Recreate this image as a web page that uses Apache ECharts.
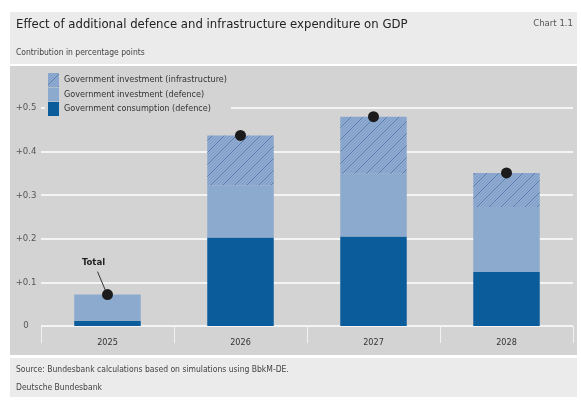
<!DOCTYPE html>
<html>
<head>
<meta charset="utf-8">
<script src="https://cdn.jsdelivr.net/npm/echarts@6/dist/echarts.min.js"></script>
<style>
  html, body { margin: 0; padding: 0; background: #fff; }
  #chart { width: 581px; height: 407px; }
</style>
</head>
<body>
<div id="chart"></div>
<script>
var FONT = '"Liberation Sans Narrow", "DejaVu Sans Condensed", "Noto Sans", sans-serif';

// data
var years = ['2025', '2026', '2027', '2028'];
var consumption = [0.012, 0.203, 0.205, 0.124];   // Government consumption (defence)
var invDefence = [0.060, 0.120, 0.144, 0.149];    // Government investment (defence)
var invInfra = [0, 0.114, 0.131, 0.078];          // Government investment (infrastructure)
var totals = [0.072, 0.437, 0.480, 0.351];
var yTickLabels = ['0', '+0.1', '+0.2', '+0.3', '+0.4', '+0.5'];

var names = [
    'Government investment (infrastructure)',
    'Government investment (defence)',
    'Government consumption (defence)'
];

// hatch pattern for the infrastructure part
function makeHatch() {
    var c = document.createElement('canvas');
    c.width = 12; c.height = 12;
    var ctx = c.getContext('2d');
    ctx.fillStyle = '#8eaad0';
    ctx.fillRect(0, 0, 12, 12);
    for (var k = 0; k <= 8; k++) {
        var d = k * 3;
        ctx.beginPath();
        ctx.moveTo(d - 12, 12);
        ctx.lineTo(d, 0);
        ctx.strokeStyle = (k % 4 === 0) ? '#4a6fa3' : '#7895c1';
        ctx.lineWidth = (k % 4 === 0) ? 0.8 : 0.6;
        ctx.stroke();
    }
    return c;
}
var hatch = { image: makeHatch(), repeat: 'repeat' };

var chart = echarts.init(document.getElementById('chart'));

var totalData = [];
for (var i = 0; i < totals.length; i++) {
    var p = { value: totals[i] };
    if (i === 0) {
        p.label = {
            show: true,
            formatter: 'Total',
            position: 'top',
            distance: 5,
            offset: [-14, -17],
            color: '#222',
            fontWeight: 'bold',
            fontSize: 9.5,
            fontFamily: FONT
        };
    }
    totalData.push(p);
}

chart.setOption({
    animation: false,
    textStyle: { fontFamily: FONT },
    graphic: [
        { type: 'rect', z: -10, shape: { x: 10, y: 12, width: 567, height: 52 }, style: { fill: '#ebebeb' } },
        { type: 'rect', z: -10, shape: { x: 10, y: 66, width: 567, height: 289 }, style: { fill: '#d3d3d3' } },
        { type: 'rect', z: -10, shape: { x: 10, y: 358, width: 567, height: 39 }, style: { fill: '#ebebeb' } }
    ],
    title: [
        { text: 'Effect of additional defence and infrastructure expenditure on GDP', left: 16, top: 18, padding: 0,
          textStyle: { fontSize: 13, fontWeight: 'normal', color: '#222', fontFamily: FONT } },
        { text: 'Contribution in percentage points', left: 16, top: 48, padding: 0,
          textStyle: { fontSize: 8.5, fontWeight: 'normal', color: '#444', fontFamily: FONT } },
        { text: 'Chart 1.1', right: 8, top: 19, padding: 0,
          textStyle: { fontSize: 9.5, fontWeight: 'normal', color: '#555', fontFamily: FONT } },
        { text: 'Source: Bundesbank calculations based on simulations using BbkM-DE.', left: 16, top: 365, padding: 0,
          textStyle: { fontSize: 8.5, fontWeight: 'normal', color: '#444', fontFamily: FONT } },
        { text: 'Deutsche Bundesbank', left: 16, top: 383, padding: 0,
          textStyle: { fontSize: 8.5, fontWeight: 'normal', color: '#444', fontFamily: FONT } }
    ],
    legend: {
        data: names,
        orient: 'vertical',
        left: 45,
        top: 73,
        icon: 'rect',
        itemWidth: 11,
        itemHeight: 14,
        itemGap: 0.5,
        padding: [0, 4, 0, 3],
        backgroundColor: '#d3d3d3',
        selectedMode: false,
        textStyle: { fontSize: 9, color: '#333', fontFamily: FONT }
    },
    grid: { left: 41, right: 8, top: 108, bottom: 81 },
    xAxis: {
        type: 'category',
        data: years,
        offset: 6,
        axisLine: { show: false },
        axisTick: { show: true, length: 17, lineStyle: { color: '#f2f2f2', width: 1 } },
        axisLabel: { margin: 6, fontSize: 9, color: '#333', fontFamily: FONT }
    },
    yAxis: {
        type: 'value',
        min: 0,
        max: 0.5,
        interval: 0.1,
        axisLine: { show: false },
        axisTick: { show: false },
        axisLabel: {
            align: 'center',
            margin: 15,
            fontSize: 9.5,
            color: '#555',
            fontFamily: FONT,
            formatter: function (v) { return yTickLabels[Math.round(v * 10)]; }
        },
        splitLine: { show: true, lineStyle: { color: '#ffffff', width: 1.5 } }
    },
    series: [
        { name: names[2], type: 'bar', stack: 'gdp', barWidth: '50%', data: consumption,
          itemStyle: { color: '#0b5c9b' } },
        { name: names[1], type: 'bar', stack: 'gdp', data: invDefence,
          itemStyle: { color: '#8caacd' } },
        { name: names[0], type: 'bar', stack: 'gdp', data: invInfra,
          itemStyle: { color: hatch } },
        { name: 'Total', type: 'scatter', symbol: 'circle', symbolSize: 11, data: totalData,
          itemStyle: { color: '#1b1b1b', opacity: 1 }, z: 5 }
    ]
});

// leader line from the "Total" label to the 2025 dot
var pt = chart.convertToPixel({ seriesIndex: 3 }, [0, totals[0]]);
chart.setOption({
    graphic: [
        { type: 'rect', z: -10, shape: { x: 10, y: 12, width: 567, height: 52 }, style: { fill: '#ebebeb' } },
        { type: 'rect', z: -10, shape: { x: 10, y: 66, width: 567, height: 289 }, style: { fill: '#d3d3d3' } },
        { type: 'rect', z: -10, shape: { x: 10, y: 358, width: 567, height: 39 }, style: { fill: '#ebebeb' } },
        { type: 'line', z: 4, shape: { x1: pt[0] - 10, y1: pt[1] - 23, x2: pt[0] - 2, y2: pt[1] - 4 },
          style: { stroke: '#333', lineWidth: 1 } }
    ]
});
</script>
</body>
</html>
